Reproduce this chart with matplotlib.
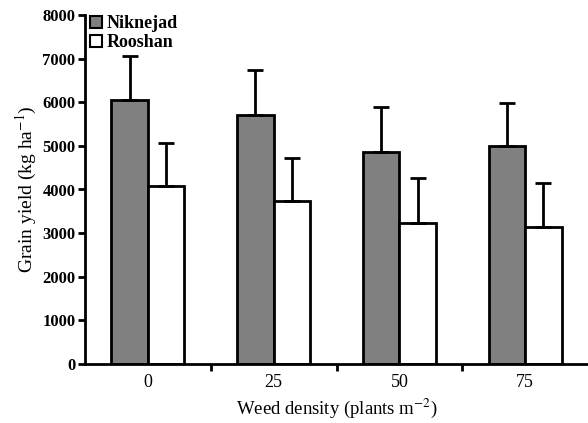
import matplotlib
matplotlib.use("Agg")
import matplotlib.pyplot as plt
import numpy as np
from matplotlib.patches import Patch

categories = ["0", "25", "50", "75"]
niknejad = [6050, 5700, 4870, 5000]
niknejad_err = [1000, 1040, 1030, 990]
rooshan = [4080, 3730, 3240, 3150]
rooshan_err = [980, 990, 1030, 990]
yticks = [0, 1000, 2000, 3000, 4000, 5000, 6000, 7000, 8000]

plt.rcParams["font.family"] = ["Liberation Serif", "DejaVu Serif"]
plt.rcParams["mathtext.fontset"] = "stix"

fig = plt.figure(figsize=(5.88, 4.23), dpi=100)
ax = fig.add_axes([85/588, 1-364/423, 1-85/588, (364-15)/423])

x = np.arange(len(categories))
w = 0.29
ekw = dict(elinewidth=2, capsize=6, capthick=2, ecolor="black")
ax.bar(x - w/2, niknejad, w, color="#808080", edgecolor="black", linewidth=2,
       yerr=[np.zeros(4), niknejad_err], error_kw=ekw, label="Niknejad")
ax.bar(x + w/2, rooshan, w, color="white", edgecolor="black", linewidth=2,
       yerr=[np.zeros(4), rooshan_err], error_kw=ekw, label="Rooshan")

ax.set_xlim(-0.5, 3.5)
ax.set_ylim(0, 8000)
ax.set_yticks(yticks)
ax.set_yticklabels([str(v) for v in yticks], fontsize=12, fontweight="bold")
ax.set_xticks(x)
ax.set_xticklabels(categories, fontsize=13)
ax.tick_params(axis="x", length=0, pad=7)
ax.set_xticks([0.5, 1.5, 2.5], minor=True)
ax.tick_params(axis="x", which="minor", length=5, width=2, direction="out")
ax.tick_params(axis="y", length=5, width=2, direction="out", pad=2)

for s in ["top", "right"]:
    ax.spines[s].set_visible(False)
for s in ["left", "bottom"]:
    ax.spines[s].set_linewidth(2)

ax.set_xlabel("Weed density (plants m$^{-2}$)", fontsize=13.5, labelpad=4)
ax.set_ylabel("Grain yield (kg ha$^{-1}$)", fontsize=14, labelpad=2)

handles = [Patch(facecolor="#808080", edgecolor="black", linewidth=1.5, label="Niknejad"),
           Patch(facecolor="white", edgecolor="black", linewidth=1.5, label="Rooshan")]
ax.legend(handles=handles, loc="upper left", bbox_to_anchor=(-0.015, 1.035), frameon=False,
          handlelength=0.65, handleheight=0.65, handletextpad=0.25, labelspacing=0.1,
          borderaxespad=0.3, prop={"size": 13, "weight": "bold"})

fig.savefig("out.png", dpi=100)
